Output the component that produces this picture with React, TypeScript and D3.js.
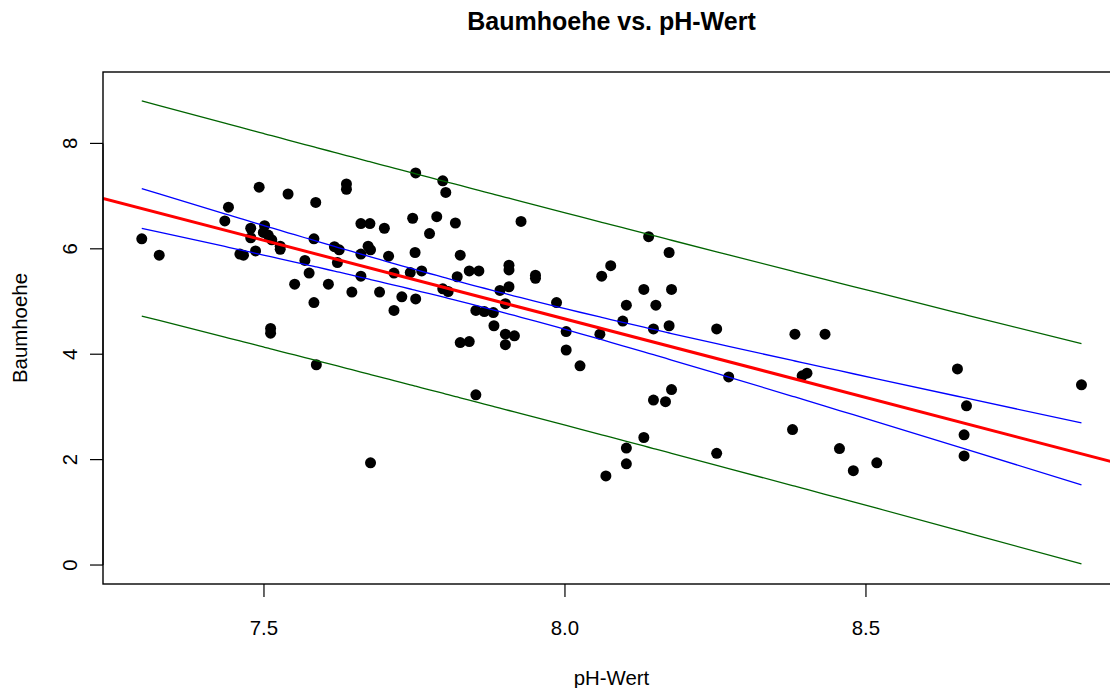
import React from "react";
import * as d3 from "d3";

// pH values and tree heights
const phWert = [
  7.297, 7.326, 7.492, 7.54, 7.586, 7.637, 7.637, 7.441, 7.435, 7.478,
  7.478, 7.501, 7.499, 7.507, 7.513, 7.527, 7.527, 7.466, 7.46, 7.486,
  7.583, 7.568, 7.575, 7.551, 7.607, 7.617, 7.625, 7.622, 7.661, 7.676,
  7.7, 7.661, 7.661, 7.673, 7.677, 7.707, 7.716, 7.646, 7.692, 7.583,
  7.716, 7.729, 7.511, 7.511, 7.587, 7.677, 7.752, 7.797, 7.802, 7.747,
  7.787, 7.818, 7.775, 7.927, 7.751, 7.826, 7.743, 7.762, 7.841, 7.857,
  7.821, 7.907, 7.907, 7.951, 7.951, 7.797, 7.806, 7.752, 7.892, 7.907,
  7.901, 7.986, 7.852, 7.866, 7.881, 7.882, 7.901, 7.916, 8.002, 8.058,
  8.139, 8.173, 8.076, 8.061, 8.131, 8.177, 8.102, 8.151, 8.096, 8.147,
  8.173, 7.826, 7.841, 7.901, 8.002, 8.025, 7.852, 8.177, 8.147, 8.167,
  8.131, 8.102, 8.102, 8.068, 8.252, 8.382, 8.432, 8.272, 8.394, 8.402,
  8.252, 8.378, 8.456, 8.479, 8.518, 8.652, 8.858, 8.667, 8.663, 8.663,
];
const baumhoehe = [
  6.19, 5.88, 7.17, 7.04, 6.88, 7.23, 7.13, 6.79, 6.53, 6.39,
  6.21, 6.44, 6.31, 6.26, 6.17, 6.05, 5.99, 5.88, 5.9, 5.96,
  6.19, 5.78, 5.54, 5.33, 5.33, 6.04, 5.98, 5.74, 6.48, 6.48,
  6.39, 5.9, 5.48, 6.05, 5.98, 5.86, 5.54, 5.18, 5.18, 4.98,
  4.83, 5.09, 4.49, 4.4, 3.8, 1.94, 7.44, 7.29, 7.07, 6.58,
  6.61, 6.49, 6.29, 6.52, 5.93, 5.88, 5.55, 5.58, 5.58, 5.58,
  5.47, 5.69, 5.6, 5.5, 5.44, 5.24, 5.19, 5.05, 5.21, 5.28,
  4.96, 4.98, 4.83, 4.81, 4.79, 4.54, 4.38, 4.35, 4.43, 4.38,
  6.23, 5.93, 5.68, 5.48, 5.23, 5.23, 4.93, 4.93, 4.63, 4.48,
  4.54, 4.22, 4.24, 4.18, 4.08, 3.78, 3.23, 3.33, 3.13, 3.1,
  2.42, 2.22, 1.92, 1.69, 4.48, 4.38, 4.38, 3.57, 3.59, 3.64,
  2.12, 2.57, 2.21, 1.79, 1.94, 3.72, 3.42, 3.02, 2.47, 2.07,
];

const xTicks = [7.5, 8.0, 8.5];
const yTicks = [0, 2, 4, 6, 8];
const T_QUANT = 1.98; // t(0.975, n-2)

const W = 1110;
const H = 688;
const L = 103, R = 1120, T = 72, B = 584;

export default function App() {
  const x = d3.scaleLinear().domain([7.2326, 8.922]).range([L, R]);
  const y = d3.scaleLinear().domain([-0.36, 9.355]).range([B, T]);

  // lm(Baumhoehe ~ pH) with 95% bands
  const n = phWert.length;
  const mx = d3.mean(phWert)!;
  const my = d3.mean(baumhoehe)!;
  const sxx = d3.sum(phWert, (v) => (v - mx) ** 2);
  const sxy = d3.sum(phWert, (v, i) => (v - mx) * (baumhoehe[i] - my));
  const b1 = sxy / sxx;
  const b0 = my - b1 * mx;
  const sse = d3.sum(phWert, (v, i) => (baumhoehe[i] - (b0 + b1 * v)) ** 2);
  const s = Math.sqrt(sse / (n - 2));

  const xs = [...phWert].sort(d3.ascending);
  const band = (k: number, pred: boolean) =>
    xs.map((v) => {
      const se = s * Math.sqrt((pred ? 1 : 0) + 1 / n + (v - mx) ** 2 / sxx);
      return [v, b0 + b1 * v + k * T_QUANT * se] as [number, number];
    });
  const line = d3
    .line<[number, number]>()
    .x((d) => x(d[0]))
    .y((d) => y(d[1]));

  const font = "Liberation Sans, Arial, Helvetica, sans-serif";

  return (
    <svg
      width={W}
      height={H}
      style={{ position: "absolute", left: 0, top: 0, background: "#fff" }}
      fontFamily={font}
    >
      <defs>
        <clipPath id="plotclip">
          <rect x={L} y={T} width={R - L} height={B - T} />
        </clipPath>
      </defs>

      <text x={(L + R) / 2} y={30} textAnchor="middle" fontSize={25} fontWeight="bold">
        Baumhoehe vs. pH-Wert
      </text>

      <g clipPath="url(#plotclip)">
        {phWert.map((v, i) => (
          <circle key={i} cx={x(v)} cy={y(baumhoehe[i])} r={5.5} fill="#000" />
        ))}
        <line
          x1={L}
          x2={R}
          y1={y(b0 + b1 * x.invert(L))}
          y2={y(b0 + b1 * x.invert(R))}
          stroke="#ff0000"
          strokeWidth={3}
        />
        <path d={line(band(1, false))!} fill="none" stroke="#0000ff" strokeWidth={1.3} />
        <path d={line(band(-1, false))!} fill="none" stroke="#0000ff" strokeWidth={1.3} />
        <path d={line(band(1, true))!} fill="none" stroke="#006400" strokeWidth={1.3} />
        <path d={line(band(-1, true))!} fill="none" stroke="#006400" strokeWidth={1.3} />
      </g>

      <rect x={L} y={T} width={R - L} height={B - T} fill="none" stroke="#000" strokeWidth={1.4} />

      {/* x axis */}
      {xTicks.map((t) => (
        <g key={t}>
          <line x1={x(t)} x2={x(t)} y1={B} y2={B + 13} stroke="#000" strokeWidth={1.2} />
          <text x={x(t)} y={635} textAnchor="middle" fontSize={20.4}>
            {t.toFixed(1)}
          </text>
        </g>
      ))}
      <text x={(L + R) / 2} y={685} textAnchor="middle" fontSize={20.4}>
        pH-Wert
      </text>

      {/* y axis */}
      <line x1={L} x2={L} y1={y(0)} y2={y(8)} stroke="#000" strokeWidth={1.2} />
      {yTicks.map((t) => (
        <g key={t}>
          <line x1={L} x2={L - 13} y1={y(t)} y2={y(t)} stroke="#000" strokeWidth={1.2} />
          <text
            transform={`translate(77,${y(t)}) rotate(-90)`}
            textAnchor="middle"
            fontSize={20.4}
          >
            {t}
          </text>
        </g>
      ))}
      <text transform={`translate(27,${(T + B) / 2}) rotate(-90)`} textAnchor="middle" fontSize={20.4}>
        Baumhoehe
      </text>
    </svg>
  );
}
